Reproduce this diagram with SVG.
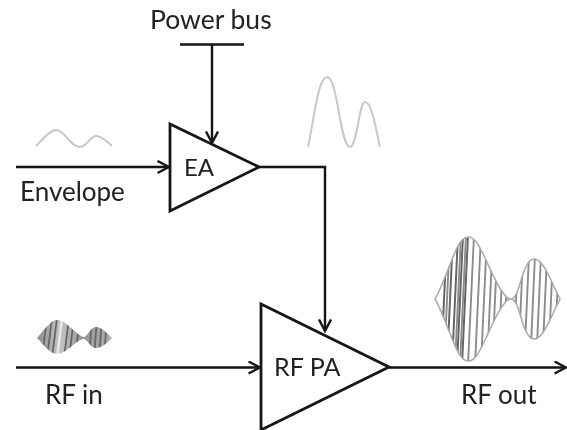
<svg xmlns="http://www.w3.org/2000/svg" width="567" height="430" viewBox="0 0 567 430">
<style>
.w{fill:none;stroke:#151515;stroke-width:2.4}
.n{fill:#fff;stroke:#151515;stroke-width:2.8;stroke-linejoin:miter}
.t{font-family:Lato,"Open Sans",sans-serif;font-size:26px;fill:#222}
.s{fill:none;stroke:#c8c8c8;stroke-width:2}
.c{fill:none;stroke:#8c8c8c;stroke-width:1.9}
.d{fill:none;stroke:#666;stroke-width:2}
</style>
<defs>
<filter id="b" x="-5%" y="-5%" width="110%" height="110%"><feGaussianBlur stdDeviation="0.45"/></filter>
<filter id="b2" x="-10%" y="-10%" width="120%" height="120%"><feGaussianBlur stdDeviation="0.7"/></filter>
<marker id="a" markerUnits="userSpaceOnUse" markerWidth="14" markerHeight="16" refX="12.500" refY="7" orient="auto"><path d="M1 1L12.500 7L1 13" fill="none" stroke="#151515" stroke-width="2.400"/></marker>
<linearGradient id="g" x1="0" x2="1" y1="0" y2="0"><stop offset="0" stop-color="#8a8a8a"/><stop offset=".3" stop-color="#c4c4c4"/><stop offset=".6" stop-color="#999"/><stop offset="1" stop-color="#b0b0b0"/></linearGradient>
<path id="bp" d="M435 299C440 291 445 277 451 262C456 249 461 237 468 237C476 237 480 248 486 260C492 273 498 287 504 294C506 297 508 299 511 299C514 299 516 295 518 290C522 278 526 259 534 259C541 259 546 270 551 280C554 287 557 293 560 299C557 305 554 311 551 318C546 328 541 339 534 339C526 339 522 320 518 308C516 303 514 299 511 299C508 299 506 301 504 304C498 311 492 325 486 338C480 350 476 361 468 361C461 361 456 349 451 336C445 321 440 307 435 299Z"/>
<path id="sp" d="M37 338C42 333 50 320 57 320C66 320 74 333 83 337C87 338 90 327 96 327C102 327 108 334 112 338C108 342 102 348 96 348C90 348 87 338 83 339C74 342 66 354 57 354C50 354 42 343 37 338Z"/>
<clipPath id="big"><use href="#bp"/></clipPath>
<clipPath id="small"><use href="#sp"/></clipPath>
</defs>
<g filter="url(#b)">
<g id="connectors">
<path class="w" d="M16 167H169" marker-end="url(#a)"/>
<path class="w" d="M180 44.500H244"/>
<path class="w" d="M212 44V143" marker-end="url(#a)"/>
<path class="w" d="M259 167H325V331" marker-end="url(#a)"/>
<path class="w" d="M16 367.500H260" marker-end="url(#a)"/>
<path class="w" d="M389 367.500H566" marker-end="url(#a)"/>
</g>
<g id="node-ea"><path class="n" d="M170 124V211L259 167Z"/><text class="t" x="184" y="176" style="font-size:24px">EA</text></g>
<g id="node-rfpa"><path class="n" d="M261 304V430L389 367Z"/><text class="t" x="274" y="376" style="font-size:25px">RF PA</text></g>
<g id="labels">
<text class="t" x="150" y="29" style="font-size:26.500px">Power bus</text>
<text class="t" x="20" y="201">Envelope</text>
<text class="t" x="45" y="404">RF in</text>
<text class="t" x="461" y="404">RF out</text>
</g>
<g id="signals">
<path class="s" d="M36 146C44 138 50 130 56 130C65 130 70 147 80 147C87 147 90 136 96 136C102 136 107 142 112 146"/>
<path class="s" d="M308 147C314 120 318 77 327 77C338 77 340 147 350 147C357 147 359 102 365 102C372 102 376 130 380 147"/>
<g clip-path="url(#big)">
<path class="d" d="M441 365L447 235M447 365L453 235M452 365L458 235M457 365L463 235M462 365L468 235"/>
<path class="c" d="M444 365L450 235M455 365L461 235M460 365L466 235M468 365L474 235M475 365L481 235M481 365L487 235M487 365L493 235M492 365L498 235M498 365L504 235M504 365L508 235M514 345L518 255M519 345L523 255M525 345L529 255M531 345L535 255M537 345L541 255M543 345L547 255M549 345L553 255M555 345L559 255"/>
</g>
<use href="#bp" fill="none" stroke="#aaa" stroke-width="1.500"/>
<g clip-path="url(#small)" filter="url(#b2)">
<rect x="36" y="318" width="78" height="38" fill="url(#g)"/>
<path d="M42 358L47 318M47 358L52 318M52 358L57 318M64 358L69 318M69 358L74 318M75 358L80 318M89 358L92 318M94 358L97 318M99 358L102 318M104 358L107 318" stroke="#666" stroke-width="1.800" fill="none"/>
<path d="M57 358L62 318" stroke="#e8e8e8" stroke-width="2.500" fill="none"/>
</g>
</g>
</g>
</svg>
